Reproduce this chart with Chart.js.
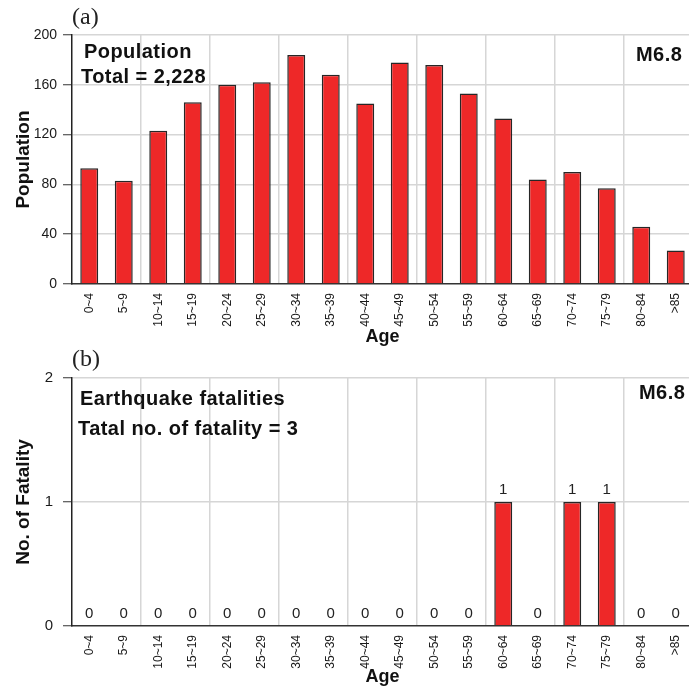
<!DOCTYPE html>
<html>
<head>
<meta charset="utf-8">
<script src="https://cdn.jsdelivr.net/npm/chart.js@4.4.1/dist/chart.umd.min.js"></script>
<style>
  html, body { margin: 0; padding: 0; background: #fff; overflow: hidden; }
  #page { position: relative; width: 689px; height: 688px; overflow: hidden; }
  canvas { position: absolute; left: 0; }
  #popChart { top: 0; }
  #fatChart { top: 340px; }
  .panel { position: absolute; font-family: 'Liberation Serif', 'Times New Roman', serif; font-size: 24px; line-height: 24px; color: #222; }
  .note { position: absolute; font-family: 'Liberation Sans', Arial, sans-serif; font-weight: bold; color: #111; white-space: nowrap;
          font-size: 20px; line-height: 20px; letter-spacing: 0.45px; }
</style>
</head>
<body>
<div id="page">
  <canvas id="popChart" width="700" height="348"></canvas>
  <canvas id="fatChart" width="700" height="348"></canvas>

  <div class="panel" style="left:72px; top:4px">(a)</div>
  <div class="note" style="left:84px; top:41px">Population</div>
  <div class="note" style="left:81px; top:66px">Total = 2,228</div>
  <div class="note" style="left:636px; top:44px">M6.8</div>

  <div class="panel" style="left:72px; top:346px">(b)</div>
  <div class="note" style="left:80px; top:388px">Earthquake fatalities</div>
  <div class="note" style="left:78px; top:418px">Tatal no. of fatality = 3</div>
  <div class="note" style="left:639px; top:382px">M6.8</div>
</div>

<script>
const ageGroups = ['0~4', '5~9', '10~14', '15~19', '20~24', '25~29', '30~34', '35~39', '40~44',
  '45~49', '50~54', '55~59', '60~64', '65~69', '70~74', '75~79', '80~84', '>85'];
const population = [93, 83, 123, 146, 160, 162, 184, 168, 145, 178, 176, 153, 133, 84, 90, 77, 46, 27];
const fatalities = [0, 0, 0, 0, 0, 0, 0, 0, 0, 0, 0, 0, 1, 0, 1, 1, 0, 0];
const populationTicks = [0, 40, 80, 120, 160, 200];
const fatalityTicks = [0, 1, 2];

Chart.defaults.font.family = "'Liberation Sans', Arial, sans-serif";
Chart.defaults.color = '#222';

const GRID = '#d6d6d6';
const BAR_FILL = '#ee2828';
const BAR_EDGE = '#262626';

// numbers written above each bar of the fatality panel
const valueLabels = {
  id: 'valueLabels',
  afterDatasetsDraw(chart, args, opts) {
    const { ctx } = chart;
    const values = chart.data.datasets[0].data;
    ctx.save();
    ctx.font = opts.font;
    ctx.fillStyle = opts.color;
    ctx.textAlign = 'center';
    ctx.textBaseline = 'middle';
    chart.getDatasetMeta(0).data.forEach((bar, i) => {
      ctx.fillText(String(values[i]), bar.x, bar.y - opts.offset);
    });
    ctx.restore();
  }
};

function makeChart(id, { values, yTicks, yTitle, top, xHeight, yFont, yPad, plugins = [], pluginOpts = {} }) {
  const yMax = yTicks[yTicks.length - 1];
  return new Chart(document.getElementById(id), {
    type: 'bar',
    data: {
      labels: ageGroups,
      datasets: [{
        data: values,
        backgroundColor: BAR_FILL,
        borderColor: BAR_EDGE,
        borderWidth: 1.5,
        barPercentage: 0.52,
        categoryPercentage: 1
      }]
    },
    plugins,
    options: {
      responsive: false,
      animation: false,
      layout: { padding: { top, right: 7, bottom: 0, left: 0 } },
      plugins: { legend: { display: false }, tooltip: { enabled: false }, ...pluginOpts },
      scales: {
        x: {
          offset: true,
          grid: {
            offset: true,
            drawTicks: false,
            lineWidth: 1.5,
            color: c => (c.index > 0 && c.index % 2 === 0) ? GRID : 'rgba(0,0,0,0)'
          },
          border: { color: '#333', width: 1.5 },
          ticks: {
            autoSkip: false,
            minRotation: 90,
            maxRotation: 90,
            padding: 9,
            color: '#1a1a1a',
            font: { size: 12 }
          },
          title: {
            display: true,
            text: 'Age',
            color: '#111',
            padding: 0,
            font: { size: 18, weight: 'bold' }
          },
          afterFit: s => { s.height = xHeight; }
        },
        y: {
          min: 0,
          max: yMax,
          afterBuildTicks: s => { s.ticks = yTicks.map(v => ({ value: v })); },
          grid: {
            lineWidth: 1.5,
            tickLength: 9,
            tickWidth: 1,
            tickColor: '#333',
            color: c => (c.tick && c.tick.value === 0) ? 'rgba(0,0,0,0)' : GRID
          },
          border: { color: '#222', width: 1.5 },
          ticks: { padding: yPad, color: '#1a1a1a', font: { size: yFont } },
          title: {
            display: true,
            text: yTitle,
            color: '#111',
            padding: { top: 12, bottom: 0 },
            font: { size: 19, weight: 'bold' }
          },
          afterFit: s => { s.width = 72; }
        }
      }
    }
  });
}

makeChart('popChart', {
  values: population,
  yTicks: populationTicks,
  yTitle: 'Population',
  top: 35,
  xHeight: 64,
  yFont: 14,
  yPad: 6
});

makeChart('fatChart', {
  values: fatalities,
  yTicks: fatalityTicks,
  yTitle: 'No. of Fatality',
  top: 38,
  xHeight: 62,
  yFont: 15,
  yPad: 10,
  plugins: [valueLabels],
  pluginOpts: { valueLabels: { font: "15px 'Liberation Sans', Arial, sans-serif", color: '#222', offset: 12 } }
});
</script>
</body>
</html>
